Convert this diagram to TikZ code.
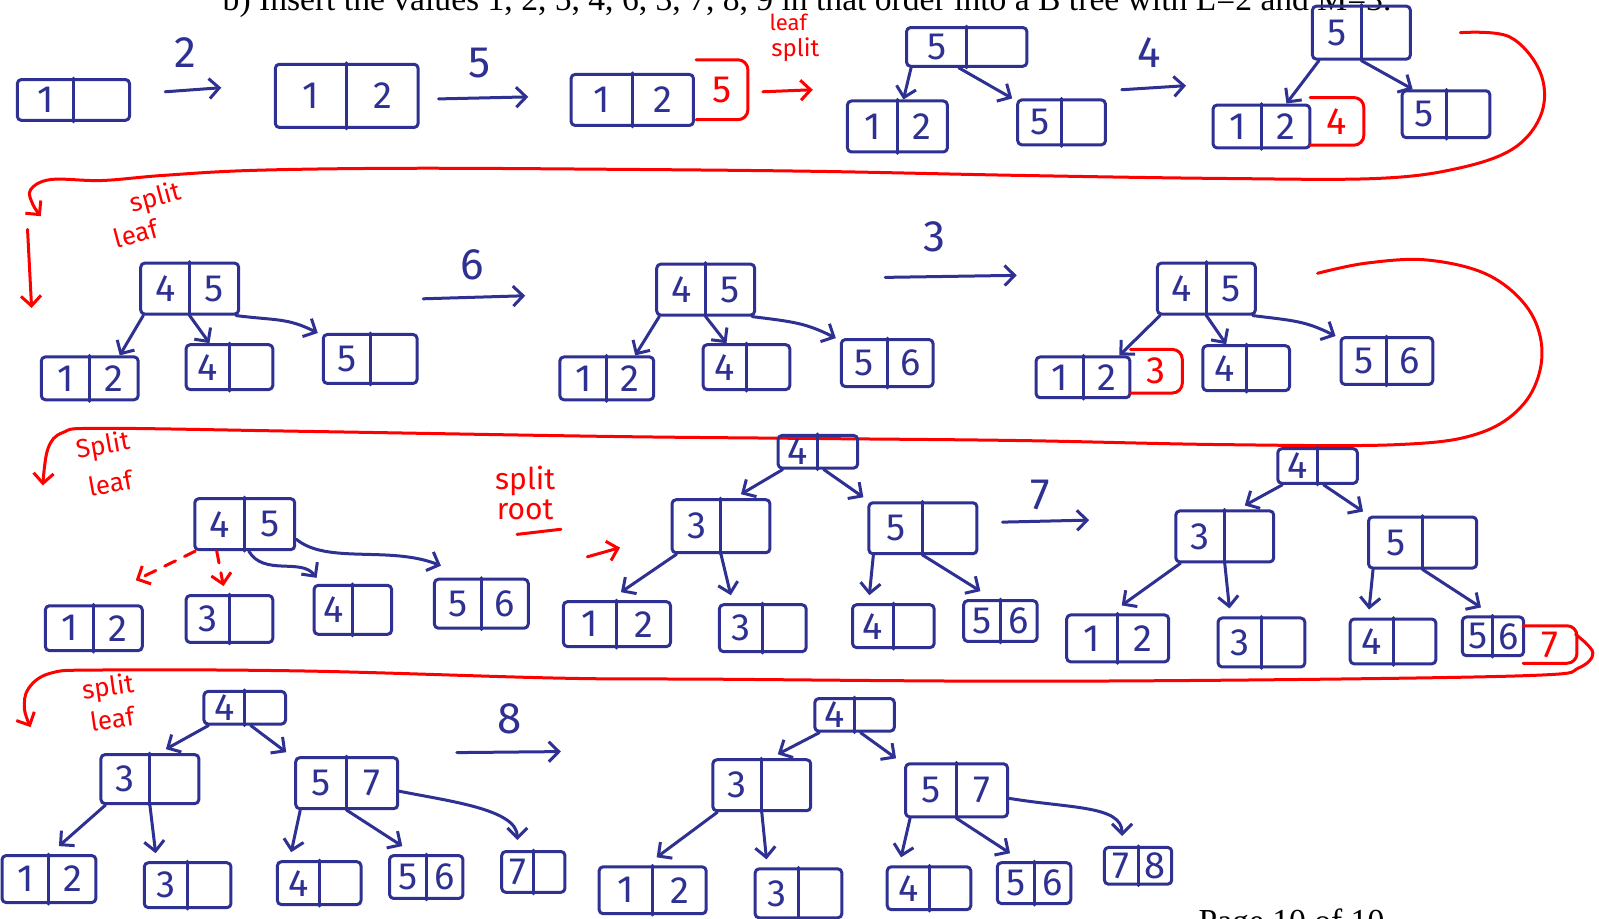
\documentclass[tikz,border=0pt]{standalone}
\usepackage{fontspec}
\setmainfont{Liberation Serif}
\newfontfamily\handfont{Fira Sans}
\usetikzlibrary{arrows.meta,calc}
\definecolor{inkblue}{RGB}{46,49,146}
\definecolor{inkred}{RGB}{255,0,0}
\def\pxu{0.51pt}
\tikzset{
  ink/.style={draw=inkblue, line width=1.5pt, line cap=round, line join=round},
  redink/.style={draw=inkred, line width=1.5pt, line cap=round, line join=round},
  box/.style={ink, rectangle, rounded corners=2pt, inner sep=0pt},
  num/.style={text=inkblue, font=\handfont\fontsize{19}{19}\selectfont, inner sep=0pt},
  rnum/.style={text=inkred, font=\handfont\fontsize{19}{19}\selectfont, inner sep=0pt},
  lbl/.style={text=inkblue, font=\handfont\fontsize{22}{22}\selectfont, inner sep=0pt},
  rlbl/.style={text=inkred, font=\handfont\fontsize{13}{14}\selectfont, inner sep=0pt},
  arr/.style={ink, -{Straight Barb[length=5pt,width=10pt]}},
  rarr/.style={redink, -{Straight Barb[length=5pt,width=10pt]}},
  rdash/.style={redink, dashed, dash pattern=on 6pt off 5pt, -{Straight Barb[length=5pt,width=10pt]}},
  printed/.style={font=\fontsize{16.8}{17}\selectfont, inner sep=0pt, anchor=base west},
}
% name, x, y, w, h, left, right
\newcommand{\bx}[7]{%
  \node[box, minimum width=#4*\pxu, minimum height=#5*\pxu] (#1) at (#2,#3) {};
  \draw[ink] (#1.north) -- (#1.south);
  \node[num] (#1-l) at ([xshift=-#4*\pxu/4]#1.center) {#6};
  \node[num] (#1-r) at ([xshift=#4*\pxu/4]#1.center) {#7};
}
% name, x, y, w, h, text  (red extension cell)
\newcommand{\rx}[6]{%
  \node[inner sep=0pt, minimum width=#4*\pxu, minimum height=#5*\pxu] (#1) at (#2,#3) {};
  \draw[redink, rounded corners=5pt] (#1.north west) -- (#1.north east) -- (#1.south east) -- (#1.south west);
  \node[rnum] (#1-t) at (#1.center) {#6};
}
% step arrow: name, x1, y1, x2, y2, label, label x, label y
\newcommand{\stp}[8]{%
  \coordinate (#1a) at (#2,#3);
  \coordinate (#1b) at (#4,#5);
  \draw[arr] (#1a) -- (#1b);
  \node[lbl] (#1l) at (#7,#8) {#6};
}
\begin{document}
\begin{tikzpicture}[x=0.51pt,y=-0.51pt]
\useasboundingbox (0,0) rectangle (1568,901);
\clip (0,0) rectangle (1568,901);
\fill[white] (0,0) rectangle (1568,901);

\node[printed] (title) at (218,10) {b) Insert the values 1, 2, 5, 4, 6, 3, 7, 8, 9 in that order into a B tree with L=2 and M=3.};
\node[printed] (page) at (1175,914) {Page 10 of 10};

% ---------------- Row 1
\bx{a1}{72}{98}{110}{40}{1}{}
\stp{s1}{162}{90}{217}{86}{2}{182}{52}
\bx{a2}{340}{94}{140}{62}{1}{2}
\stp{s2}{430}{97}{518}{95}{5}{470}{62}
\bx{a3}{620}{98}{120}{50}{1}{2}
\rx{a3r}{708}{88}{50}{58}{5}
\coordinate (r1a) at (748,90);
\coordinate (r1b) at (797,88);
\draw[rarr] (r1a) -- (r1b);
\node[rlbl, font=\handfont\fontsize{11}{11}\selectfont] (r1l1) at (773,22) {leaf};
\node[rlbl, font=\handfont\fontsize{12}{11}\selectfont] (r1l2) at (780,49) {split};

\bx{b0}{948}{46}{118}{38}{5}{}
\bx{b1}{880}{124}{98}{50}{1}{2}
\bx{b2}{1041}{120}{86}{44}{5}{}
\draw[arr] ([xshift=3pt]b0.south west) -- ([xshift=3pt]b1.north);
\draw[arr] ([xshift=-4pt]b0.south) -- ([xshift=-2pt]b2.north west);

\stp{s3}{1100}{88}{1163}{84}{4}{1127}{52}

\bx{c0}{1335}{32}{96}{52}{5}{}
\bx{c1}{1237}{124}{95}{42}{1}{2}
\rx{c1r}{1311}{119}{52}{46}{4}
\bx{c2}{1418}{112}{86}{46}{5}{}
\draw[arr] ([xshift=4pt]c0.south west) -- ($(c1.north)!0.5!(c1.north east)$);
\draw[arr] (c0.south) -- ([xshift=6pt]c2.north west);

% red flow 1
\coordinate (f1a) at (1432,32);
\coordinate (f1b) at (40,212);
\draw[rarr] plot[smooth, tension=0.6] coordinates {(f1a) (1480,36) (1510,70) (1512,110) (1485,145) (1430,165) (1350,175) (1200,175) (1000,172) (800,168) (600,166) (400,165) (250,167) (160,172) (100,177) (50,176) (30,186) (32,200) (f1b)};
\coordinate (f1c) at (27,225);
\coordinate (f1d) at (31,302);
\draw[rarr] (f1c) -- (f1d);
\node[rlbl, rotate=15] (sl1a) at (153,195) {split};
\node[rlbl, rotate=15] (sl1b) at (133,229) {leaf};

% ---------------- Row 2
\bx{d0}{186}{283}{96}{50}{4}{5}
\bx{d1}{88}{371}{95}{42}{1}{2}
\bx{d2}{225}{360}{85}{44}{4}{}
\bx{d3}{363}{352}{92}{48}{5}{}
\draw[arr] ([xshift=2pt]d0.south west) -- ([xshift=-10pt]d1.north east);
\draw[arr] (d0.south) -- ([xshift=-10pt]d2.north);
\draw[arr] ([xshift=-2pt]d0.south east) .. controls +(40,5) and +(-30,-15) .. ([xshift=-2pt]d3.north west);

\stp{s4}{415}{293}{515}{290}{6}{463}{260}

\bx{e0}{692}{284}{96}{50}{4}{5}
\bx{e1}{595}{371}{92}{42}{1}{2}
\bx{e2}{732}{360}{85}{44}{4}{}
\bx{e3}{870}{356}{90}{46}{5}{6}
\draw[arr] ([xshift=2pt]e0.south west) -- ([xshift=-10pt]e1.north east);
\draw[arr] (e0.south) -- ([xshift=-10pt]e2.north);
\draw[arr] ([xshift=-2pt]e0.south east) .. controls +(40,5) and +(-30,-15) .. ([xshift=-2pt]e3.north west);

\stp{s5}{868}{272}{997}{270}{3}{916}{232}

\bx{f0}{1183}{283}{96}{50}{4}{5}
\bx{f1}{1062}{370}{92}{40}{1}{2}
\rx{f1r}{1134}{364}{50}{42}{3}
\bx{f2}{1222}{361}{85}{44}{4}{}
\bx{f3}{1360}{354}{90}{46}{5}{6}
\draw[arr] ([xshift=2pt]f0.south west) -- ([xshift=-6pt]f1.north east);
\draw[arr] (f0.south) -- ([xshift=-10pt]f2.north);
\draw[arr] ([xshift=-2pt]f0.south east) .. controls +(40,5) and +(-30,-15) .. ([xshift=-2pt]f3.north west);

% red flow 2
\coordinate (f2a) at (1292,268);
\coordinate (f2b) at (42,476);
\draw[rarr] plot[smooth, tension=0.6] coordinates {(f2a) (1340,258) (1400,255) (1460,270) (1500,305) (1512,350) (1495,395) (1450,425) (1370,436) (1200,436) (1000,432) (800,430) (600,428) (300,423) (100,420) (62,424) (47,440) (f2b)};
\node[rlbl, rotate=10] (sl2a) at (101,438) {Split};
\node[rlbl, rotate=10] (sl2b) at (108,474) {leaf};

% ---------------- Row 3
\bx{g0}{240}{514}{98}{50}{4}{5}
\bx{g1}{92}{616}{95}{44}{1}{2}
\bx{g2}{225}{607}{85}{46}{3}{}
\bx{g3}{346}{598}{76}{48}{4}{}
\bx{g4}{472}{592}{92}{48}{5}{6}
\draw[rdash] ([xshift=1pt]g0.south west) -- ([xshift=-4pt,yshift=12pt]g1.north east);
\draw[rdash] ([xshift=-14pt]g0.south) -- ([xshift=-3pt,yshift=4pt]g2.north);
\draw[arr] ([xshift=2pt]g0.south) .. controls +(15,25) and +(-15,-20) .. ([xshift=2pt,yshift=3pt]g3.north west);
\draw[arr] ([yshift=6pt]g0.south east) .. controls +(30,25) and +(-50,-20) .. ([xshift=4pt,yshift=6pt]g4.north west);

\node[rlbl, font=\handfont\fontsize{15}{14}\selectfont] (sr1) at (515,472) {split};
\node[rlbl, font=\handfont\fontsize{15}{14}\selectfont] (sr2) at (515,500) {root};
\coordinate (ula) at (507,524);
\coordinate (ulb) at (550,519);
\draw[redink] (ula) -- (ulb);
\coordinate (ra1) at (576,546);
\coordinate (ra2) at (608,537);
\draw[rarr] (ra1) -- (ra2);

\bx{h0}{802}{443}{78}{32}{4}{}
\bx{h1}{707}{516}{96}{52}{3}{}
\bx{h2}{905}{518}{106}{50}{5}{}
\bx{h11}{605}{612}{105}{44}{1}{2}
\bx{h12}{748}{616}{85}{46}{3}{}
\bx{h21}{876}{614}{80}{42}{4}{}
\bx{h22}{981}{609}{72}{40}{5}{6}
\draw[arr] ([xshift=3pt]h0.south west) -- ([xshift=10pt,yshift=2pt]h1.north);
\draw[arr] ([xshift=3pt]h0.south) -- ([xshift=-2pt,yshift=2pt]h2.north west);
\draw[arr] ([xshift=3pt]h1.south west) -- ([xshift=2pt,yshift=4pt]h11.north);
\draw[arr] (h1.south) -- ([xshift=-16pt,yshift=4pt]h12.north);
\draw[arr] ([xshift=3pt]h2.south west) -- ([xshift=-12pt,yshift=4pt]h21.north);
\draw[arr] (h2.south) -- ([xshift=-10pt,yshift=4pt]h22.north);

\stp{s6}{983}{512}{1068}{510}{7}{1020}{485}

\bx{i0}{1292}{457}{78}{34}{4}{}
\bx{i1}{1201}{526}{96}{50}{3}{}
\bx{i2}{1395}{532}{106}{50}{5}{}
\bx{i11}{1096}{626}{100}{46}{1}{2}
\bx{i12}{1237}{630}{85}{48}{3}{}
\bx{i21}{1366}{629}{84}{44}{4}{}
\bx{i22}{1464}{624}{60}{38}{5}{6}
\rx{i22r}{1520}{632}{52}{36}{7}
\draw[arr] ([xshift=3pt]i0.south west) -- ([xshift=10pt,yshift=2pt]i1.north);
\draw[arr] ([xshift=3pt]i0.south) -- ([xshift=-2pt,yshift=2pt]i2.north west);
\draw[arr] ([xshift=3pt]i1.south west) -- ([xshift=2pt,yshift=4pt]i11.north);
\draw[arr] (i1.south) -- ([xshift=-16pt,yshift=4pt]i12.north);
\draw[arr] ([xshift=3pt]i2.south west) -- ([xshift=-12pt,yshift=4pt]i21.north);
\draw[arr] (i2.south) -- ([xshift=-6pt,yshift=4pt]i22.north);

% red flow 3
\coordinate (f3a) at (1545,622);
\coordinate (f3b) at (30,713);
\draw[rarr] plot[smooth, tension=0.6] coordinates {(f3a) (1562,640) (1548,655) (1510,662) (1300,666) (1000,668) (700,666) (550,665) (300,658) (100,657) (50,660) (28,675) (24,695) (f3b)};
\node[rlbl, rotate=8] (sl3a) at (106,675) {split};
\node[rlbl, rotate=8] (sl3b) at (110,705) {leaf};

% ---------------- Row 4
\bx{j0}{240}{694}{80}{32}{4}{}
\bx{j1}{147}{764}{96}{48}{3}{}
\bx{j2}{340}{768}{100}{50}{5}{7}
\bx{j11}{48}{862}{92}{46}{1}{2}
\bx{j12}{184}{868}{85}{44}{3}{}
\bx{j21}{313}{866}{82}{42}{4}{}
\bx{j22}{418}{860}{72}{42}{5}{6}
\bx{j23}{523}{855}{62}{40}{7}{}
\draw[arr] ([xshift=3pt]j0.south west) -- ([xshift=8pt,yshift=2pt]j1.north);
\draw[arr] ([xshift=3pt]j0.south) -- ([xshift=-4pt,yshift=2pt]j2.north west);
\draw[arr] ([xshift=3pt]j1.south west) -- ([xshift=5pt,yshift=4pt]j11.north);
\draw[arr] (j1.south) -- ([xshift=-16pt,yshift=4pt]j12.north);
\draw[arr] ([xshift=3pt]j2.south west) -- ([xshift=-14pt,yshift=4pt]j21.north);
\draw[arr] (j2.south) -- ([xshift=-12pt,yshift=4pt]j22.north);
\draw[arr] ([yshift=-4pt]j2.east) .. controls +(50,10) and +(0,-30) .. ([xshift=-8pt,yshift=5pt]j23.north);

\stp{s7}{448}{738}{550}{737}{8}{500}{705}

\bx{k0}{838}{701}{78}{32}{4}{}
\bx{k1}{747}{770}{96}{50}{3}{}
\bx{k2}{938}{775}{100}{52}{5}{7}
\bx{k11}{640}{873}{105}{46}{1}{2}
\bx{k12}{783}{876}{85}{48}{3}{}
\bx{k21}{911}{871}{82}{42}{4}{}
\bx{k22}{1014}{866}{72}{40}{5}{6}
\bx{k23}{1116}{849}{66}{36}{7}{8}
\draw[arr] ([xshift=3pt]k0.south west) -- ([xshift=8pt,yshift=2pt]k1.north);
\draw[arr] ([xshift=3pt]k0.south) -- ([xshift=-4pt,yshift=2pt]k2.north west);
\draw[arr] ([xshift=3pt]k1.south west) -- ([xshift=2pt,yshift=4pt]k11.north);
\draw[arr] (k1.south) -- ([xshift=-16pt,yshift=4pt]k12.north);
\draw[arr] ([xshift=3pt]k2.south west) -- ([xshift=-14pt,yshift=4pt]k21.north);
\draw[arr] (k2.south) -- ([xshift=-12pt,yshift=4pt]k22.north);
\draw[arr] ([yshift=-4pt]k2.east) .. controls +(60,10) and +(0,-30) .. ([xshift=-8pt,yshift=5pt]k23.north);
\end{tikzpicture}
\end{document}
